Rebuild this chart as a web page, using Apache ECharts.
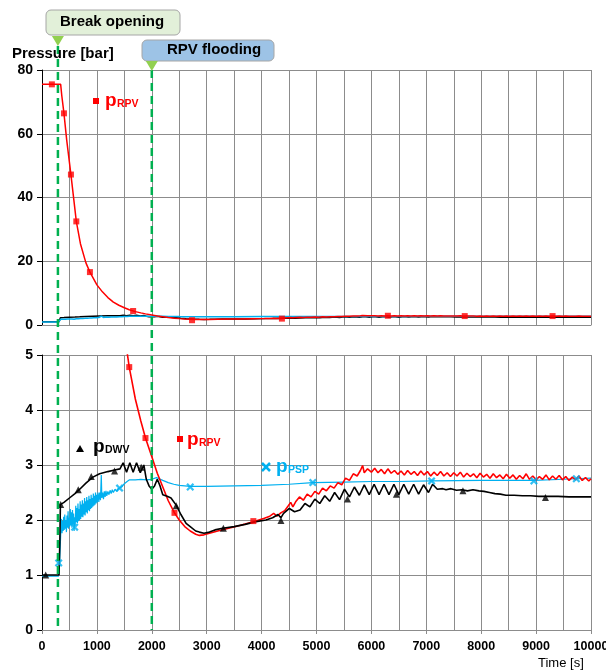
<!DOCTYPE html>
<html>
<head>
<meta charset="utf-8">
<script src="https://cdn.jsdelivr.net/npm/echarts@6/dist/echarts.min.js"></script>
<style>
  html, body { margin: 0; padding: 0; background: #fff; }
  #main { width: 606px; height: 672px; }
</style>
</head>
<body>
<div id="main"></div>
<script>
// event times [s]
var breakTime = 290;
var floodTime = 2000;

// x axis ticks
var xTicks = [0, 1000, 2000, 3000, 4000, 5000, 6000, 7000, 8000, 9000, 10000];

// p_RPV [t, bar]
var rpv = [
  [0, 75.5], [340, 75.5], [360, 72], [400, 66.4], [450, 58], [527, 47.2], [625, 32.5],
  [700, 25.5], [800, 19.5], [873, 16.6], [1000, 12.6], [1100, 10.4], [1200, 8.6],
  [1300, 7.2], [1400, 6.2], [1500, 5.4], [1589, 4.78], [1700, 4.2], [1800, 3.8],
  [1885, 3.49], [2000, 3.15], [2100, 2.85], [2200, 2.6], [2300, 2.35], [2413, 2.13],
  [2500, 2.0], [2600, 1.88], [2700, 1.8], [2800, 1.74], [2867, 1.72], [2950, 1.73],
  [3050, 1.76], [3200, 1.8], [3400, 1.85], [3600, 1.9], [3850, 1.97], [3950, 2.0],
  [4050, 2.03], [4150, 2.07], [4220, 2.12], [4280, 2.07], [4350, 2.13], [4420, 2.17],
  [4480, 2.25], [4530, 2.32], [4570, 2.24], [4620, 2.33],
  [4690, 2.42], [4760, 2.36], [4830, 2.47], [4900, 2.42], [4970, 2.52], [5040, 2.47],
  [5110, 2.58], [5180, 2.53], [5250, 2.62], [5320, 2.58], [5390, 2.68], [5460, 2.64],
  [5530, 2.76], [5600, 2.72], [5670, 2.84], [5740, 2.8], [5800, 2.9], [5840, 2.99],
  [5870, 2.86], [5930, 2.93], [6000, 2.87], [6060, 2.94], [6120, 2.86], [6180, 2.92],
  [6240, 2.84], [6300, 2.93], [6360, 2.85], [6420, 2.9], [6480, 2.83], [6540, 2.89],
  [6600, 2.82], [6660, 2.9], [6720, 2.83], [6780, 2.88], [6840, 2.81], [6900, 2.89],
  [6960, 2.82], [7020, 2.88], [7080, 2.8], [7140, 2.87], [7200, 2.81], [7260, 2.88],
  [7320, 2.8], [7380, 2.86], [7440, 2.79], [7500, 2.86], [7560, 2.8], [7620, 2.87],
  [7680, 2.78], [7740, 2.85], [7800, 2.79], [7860, 2.84], [7920, 2.77], [7980, 2.85],
  [8040, 2.78], [8100, 2.83], [8160, 2.76], [8220, 2.84], [8280, 2.77], [8340, 2.82],
  [8400, 2.75], [8460, 2.83], [8520, 2.76], [8580, 2.82], [8640, 2.74], [8700, 2.81],
  [8760, 2.75], [8820, 2.84], [8880, 2.74], [8940, 2.8], [9000, 2.73], [9060, 2.79],
  [9120, 2.74], [9180, 2.82], [9240, 2.73], [9300, 2.8], [9360, 2.74], [9420, 2.81],
  [9480, 2.73], [9540, 2.79], [9600, 2.72], [9660, 2.78], [9720, 2.73], [9780, 2.8],
  [9840, 2.72], [9900, 2.77], [9960, 2.71], [10000, 2.75]
];

// p_DWV [t, bar]
var dwv = [
  [0, 1.0], [310, 1.0], [325, 1.6], [335, 2.28], [400, 2.32], [500, 2.4], [600, 2.48],
  [687, 2.56], [800, 2.67], [927, 2.78], [1050, 2.84], [1200, 2.88], [1322, 2.91],
  [1420, 2.93], [1478, 3.04], [1540, 2.87], [1600, 3.04], [1660, 2.87], [1722, 3.04],
  [1790, 2.86], [1855, 3.0], [1900, 2.74], [1950, 2.62], [2000, 2.56], [2050, 2.62],
  [2100, 2.74], [2150, 2.62], [2200, 2.46], [2280, 2.43], [2350, 2.4], [2444, 2.27],
  [2530, 2.1], [2625, 1.94], [2700, 1.88], [2800, 1.8], [2867, 1.78], [2950, 1.76],
  [3050, 1.78], [3150, 1.82], [3290, 1.85], [3500, 1.88], [3700, 1.92], [3900, 1.97],
  [4080, 2.0], [4200, 2.04], [4300, 2.1], [4350, 2.04], [4400, 2.12], [4505, 2.21],
  [4600, 2.15], [4700, 2.18], [4790, 2.3], [4880, 2.24], [4970, 2.38], [5060, 2.3],
  [5150, 2.44], [5240, 2.34], [5330, 2.5], [5420, 2.37], [5510, 2.56], [5600, 2.42],
  [5690, 2.6], [5780, 2.45], [5870, 2.64], [5960, 2.46], [6050, 2.65], [6140, 2.46],
  [6230, 2.65], [6320, 2.46], [6410, 2.65], [6500, 2.46], [6590, 2.65], [6680, 2.47],
  [6770, 2.65], [6860, 2.47], [6950, 2.64], [7040, 2.5], [7115, 2.65], [7200, 2.56],
  [7300, 2.57], [7360, 2.55], [7450, 2.57], [7550, 2.54], [7650, 2.55], [7750, 2.53],
  [7850, 2.55], [7960, 2.53], [8050, 2.52], [8150, 2.5], [8250, 2.48], [8350, 2.47],
  [8450, 2.45], [8600, 2.45], [8750, 2.44], [8900, 2.44], [9050, 2.43], [9200, 2.43],
  [9400, 2.43], [9600, 2.42], [9800, 2.42], [10000, 2.42]
];

// p_PSP [t, bar]
var psp = [
  [0, 0.98], [300, 0.98], [320, 1.2], [345, 1.85], [355, 2.02], [365, 1.76], [375, 1.98],
  [385, 1.8], [395, 2.06], [405, 1.82], [415, 2.1], [425, 1.84], [435, 2.0], [445, 1.78],
  [455, 2.08], [465, 1.86], [475, 2.16], [485, 1.84], [495, 2.04], [505, 1.88], [515, 2.2],
  [525, 1.9], [535, 2.14], [545, 1.86], [555, 2.18], [565, 1.92], [575, 2.12], [585, 1.8],
  [595, 2.05], [605, 1.9], [615, 2.26], [625, 1.96], [635, 2.22], [645, 1.94], [655, 2.3],
  [665, 1.98], [675, 2.2], [685, 2.0], [695, 2.34], [705, 2.02], [715, 2.28], [725, 2.06],
  [735, 2.36], [745, 2.05], [755, 2.3], [765, 2.1], [775, 2.4], [785, 2.08], [795, 2.34],
  [805, 2.14], [815, 2.42], [825, 2.12], [835, 2.36], [845, 2.18], [855, 2.44], [865, 2.16],
  [875, 2.38], [885, 2.2], [895, 2.46], [905, 2.22], [915, 2.4], [925, 2.24], [935, 2.48],
  [945, 2.26], [955, 2.44], [965, 2.28], [975, 2.5], [985, 2.3], [995, 2.46], [1005, 2.32],
  [1020, 2.5], [1035, 2.33], [1050, 2.5], [1065, 2.36], [1080, 2.82], [1090, 2.4],
  [1105, 2.5], [1120, 2.38], [1135, 2.52], [1150, 2.42], [1165, 2.53], [1180, 2.44],
  [1200, 2.52], [1220, 2.46], [1240, 2.54], [1260, 2.48], [1280, 2.55], [1300, 2.5],
  [1330, 2.56], [1360, 2.52], [1390, 2.57], [1413, 2.58], [1450, 2.6], [1500, 2.66],
  [1550, 2.7], [1594, 2.73], [1700, 2.73], [1800, 2.74], [1900, 2.73], [2000, 2.74],
  [2085, 2.77], [2200, 2.72], [2300, 2.68], [2400, 2.65], [2500, 2.63], [2600, 2.62],
  [2700, 2.61], [3000, 2.61], [3500, 2.62], [4000, 2.63], [4500, 2.65], [4930, 2.68],
  [5500, 2.69], [6000, 2.7], [6500, 2.7], [7100, 2.71], [8000, 2.72], [8960, 2.72],
  [9733, 2.75], [10000, 2.76]
];

// marker points
var rpvMarksTop = [[180, 75.5], [400, 66.4], [527, 47.2], [625, 32.5], [873, 16.6], [1660, 4.4],
  [2733, 1.5], [4370, 2.0], [6300, 2.9], [7700, 2.8], [9300, 2.8]];
var rpvMarksBottom = [[1589, 4.78], [1885, 3.49], [2413, 2.13], [3850, 1.98]];
var dwvMarks = [[67, 1.0], [340, 2.28], [660, 2.55], [897, 2.79], [1322, 2.89], [1807, 2.96],
  [2444, 2.26], [3304, 1.85], [4352, 1.99], [5564, 2.38], [6455, 2.47], [7667, 2.53], [9170, 2.41]];
var pspMarks = [[304, 1.22], [595, 1.87], [1413, 2.58], [2700, 2.6], [4933, 2.68],
  [7096, 2.71], [8960, 2.71], [9733, 2.75]];

var RED = '#ff0000', BLACK = '#000000', BLUE = '#00b0f0', GREEN = '#00b050';
var GRIDC = '#8c8c8c';
var FONT = "'Liberation Sans', Arial, sans-serif";
var xSymbol = 'path://M2,0 L5,3 L8,0 L10,2 L7,5 L10,8 L8,10 L5,7 L2,10 L0,8 L3,5 L0,2 Z';

function xAxisCfg(idx, showLabel) {
  return {
    type: 'value', gridIndex: idx, min: 0, max: 10000, interval: 1000,
    axisLine: { show: true, onZero: false, lineStyle: { color: GRIDC } },
    axisTick: { show: showLabel, length: 4, lineStyle: { color: GRIDC } },
    axisLabel: { show: showLabel, color: '#000', fontWeight: 'bold', fontSize: 12.5, fontFamily: FONT, margin: 10,
      formatter: function (v) { return String(v); } },
    splitLine: { show: true, lineStyle: { color: GRIDC, width: 1 } },
    minorTick: { show: false, splitNumber: 2 },
    minorSplitLine: { show: true, lineStyle: { color: GRIDC, width: 1 } }
  };
}
function yAxisCfg(idx, max, interval) {
  return {
    type: 'value', gridIndex: idx, min: 0, max: max, interval: interval,
    axisLine: { show: true, lineStyle: { color: '#000' } },
    axisTick: { show: true, length: 5, lineStyle: { color: '#000' } },
    axisLabel: { color: '#000', fontWeight: 'bold', fontSize: 14, fontFamily: FONT, margin: 9 },
    splitLine: { show: true, lineStyle: { color: GRIDC, width: 1 } }
  };
}
function line(data, color, xi, width) {
  return { type: 'line', data: data, xAxisIndex: xi, yAxisIndex: xi, showSymbol: false,
    lineStyle: { color: color, width: width }, itemStyle: { color: color }, animation: false, clip: true };
}
function marks(data, color, xi, symbol, size) {
  return { type: 'scatter', data: data, xAxisIndex: xi, yAxisIndex: xi, symbol: symbol,
    symbolSize: size, itemStyle: { color: color }, animation: false, z: 5 };
}

var chart = echarts.init(document.getElementById('main'));
chart.setOption({
  backgroundColor: '#fff',
  animation: false,
  grid: [
    { left: 42, right: 15, top: 70, height: 255, outerBoundsMode: 'none', containLabel: false },
    { left: 42, right: 15, top: 355, height: 275, outerBoundsMode: 'none', containLabel: false }
  ],
  xAxis: [xAxisCfg(0, false), xAxisCfg(1, true)],
  yAxis: [yAxisCfg(0, 80, 20), yAxisCfg(1, 5, 1)],
  series: [
    line(dwv, BLACK, 0, 1.5),
    line(psp, BLUE, 0, 1.5),
    line(rpv, RED, 0, 1.5),
    marks(rpvMarksTop, RED, 0, 'rect', 6),
    line(psp, BLUE, 1, 1.2),
    line(rpv, RED, 1, 1.6),
    line(dwv, BLACK, 1, 1.6),
    marks(rpvMarksBottom, RED, 1, 'rect', 6),
    marks(dwvMarks, BLACK, 1, 'triangle', 7),
    marks(pspMarks, BLUE, 1, xSymbol, 8)
  ]
});

// overlay: event lines, callouts, series labels
var xb = chart.convertToPixel({ xAxisIndex: 1 }, breakTime);
var xf = chart.convertToPixel({ xAxisIndex: 1 }, floodTime);
var yBottom = chart.convertToPixel({ yAxisIndex: 1 }, 0);

function txt(x, y, text, color, font, z) {
  return { type: 'text', x: x, y: y, z: z || 20,
    style: { text: text, fill: color, font: font, textVerticalAlign: 'top', verticalAlign: 'top' } };
}
function seriesLabel(x, base, main, sub, color) {
  return [
    txt(x, base - 16, main, color, 'bold 19px ' + FONT),
    txt(x + 12, base - 8, sub, color, 'bold 10.5px ' + FONT)
  ];
}

var g = [
  { type: 'line', z: 10, shape: { x1: xb, y1: 46, x2: xb, y2: yBottom },
    style: { stroke: GREEN, lineWidth: 2.5, lineDash: [8, 5] } },
  { type: 'line', z: 10, shape: { x1: xf, y1: 70, x2: xf, y2: yBottom },
    style: { stroke: GREEN, lineWidth: 2.5, lineDash: [8, 5] } },
  { type: 'rect', z: 15, shape: { x: 46, y: 10, width: 134, height: 25, r: 5 },
    style: { fill: '#e2f0d9', stroke: '#a6a6a6', lineWidth: 1 } },
  txt(60, 14, 'Break opening', '#000', 'bold 15px ' + FONT, 16),
  { type: 'polygon', z: 16, shape: { points: [[xb - 6, 36], [xb + 6, 36], [xb, 46]] },
    style: { fill: '#92d050' } },
  { type: 'rect', z: 15, shape: { x: 142, y: 40, width: 132, height: 21, r: 5 },
    style: { fill: '#9dc3e6', stroke: '#a6a6a6', lineWidth: 1 } },
  txt(167, 42, 'RPV flooding', '#000', 'bold 15px ' + FONT, 16),
  { type: 'polygon', z: 16, shape: { points: [[xf - 6, 61], [xf + 6, 61], [xf, 71]] },
    style: { fill: '#92d050' } },
  txt(12, 46, 'Pressure [bar]', '#000', 'bold 15px ' + FONT),
  txt(538, 657, 'Time [s]', '#000', '13px ' + FONT),
  // label glyphs
  { type: 'rect', z: 20, shape: { x: 93, y: 98, width: 6, height: 6 }, style: { fill: RED } },
  { type: 'rect', z: 20, shape: { x: 177, y: 436, width: 6, height: 6 }, style: { fill: RED } },
  { type: 'polygon', z: 20, shape: { points: [[76, 452], [84, 452], [80, 445]] }, style: { fill: BLACK } },
  { type: 'line', z: 20, shape: { x1: 262, y1: 463, x2: 270, y2: 471 }, style: { stroke: BLUE, lineWidth: 2.5 } },
  { type: 'line', z: 20, shape: { x1: 270, y1: 463, x2: 262, y2: 471 }, style: { stroke: BLUE, lineWidth: 2.5 } }
];
g = g.concat(
  seriesLabel(105, 107, 'p', 'RPV', RED),
  seriesLabel(187, 446, 'p', 'RPV', RED),
  seriesLabel(93, 453, 'p', 'DWV', BLACK),
  seriesLabel(276, 473, 'p', 'PSP', BLUE)
);
chart.setOption({ graphic: g });
</script>
</body>
</html>
